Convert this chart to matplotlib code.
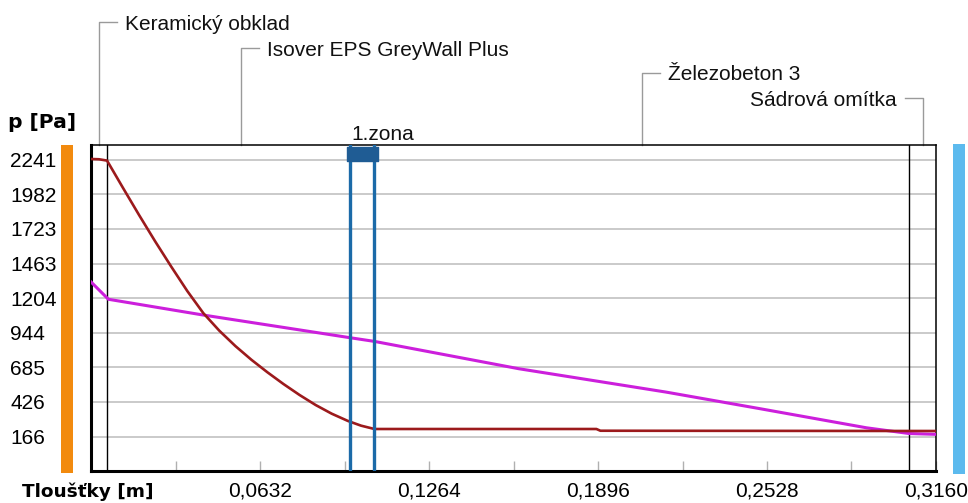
import matplotlib
matplotlib.use("Agg")
import matplotlib.pyplot as plt
from matplotlib.transforms import blended_transform_factory
from matplotlib.patches import Rectangle
from matplotlib.lines import Line2D

# ---- data -------------------------------------------------------------
layer_names = ["Keramický obklad", "Isover EPS GreyWall Plus", "Železobeton 3", "Sádrová omítka"]
layer_thickness = [0.006, 0.100, 0.200, 0.010]

x_ticks = [0.0632, 0.1264, 0.1896, 0.2528, 0.3160]
x_tick_labels = ["0,0632", "0,1264", "0,1896", "0,2528", "0,3160"]
x_minor_ticks = [0.0316, 0.0948, 0.1580, 0.2212, 0.2844]
y_ticks = [166, 426, 685, 944, 1204, 1463, 1723, 1982, 2241]
y_tick_labels = ["166", "426", "685", "944", "1204", "1463", "1723", "1982", "2241"]

# saturated water vapour pressure [Pa]
x_sat = [0.000, 0.003, 0.006, 0.012, 0.018, 0.024, 0.030, 0.036, 0.042,
         0.048, 0.054, 0.060, 0.066, 0.072, 0.078, 0.084, 0.090, 0.096,
         0.101, 0.106, 0.1890, 0.1905, 0.316]
p_sat = [2248, 2246, 2236, 2030, 1827, 1630, 1441, 1258, 1092,
         960, 845, 742, 648, 560, 478, 403, 338, 284,
         248, 223, 223, 210, 208]

# partial water vapour pressure [Pa]
x_par = [0.000, 0.0065, 0.0413, 0.0961, 0.106, 0.160, 0.215, 0.250, 0.290, 0.306, 0.316]
p_par = [1326, 1196, 1080, 910, 880, 675, 500, 376, 232, 189, 183]

zone_start, zone_end = 0.097, 0.106
zone_label = "1.zona"

x_max = 0.316
y_min, y_max = -92, 2353

# ---- figure -----------------------------------------------------------
W, H = 968, 503
fig = plt.figure(figsize=(W / 100, H / 100), dpi=100)
fig.patch.set_facecolor("white")

ax = fig.add_axes([91 / W, (H - 471) / H, (936 - 91) / W, (471 - 145) / H])
ax.set_xlim(0, x_max)
ax.set_ylim(y_min, y_max)

tick_font = dict(family="Liberation Sans", size=15)

ax.set_yticks(y_ticks)
ax.set_yticklabels(y_tick_labels, **tick_font)
ax.tick_params(axis="y", length=0, pad=58.3)
for lab in ax.get_yticklabels():
    lab.set_horizontalalignment("left")
ax.yaxis.grid(True, color="#c6c6c6", lw=1.3)
ax.set_axisbelow(True)

ax.set_xticks(x_ticks)
ax.set_xticklabels(x_tick_labels, **tick_font)
ax.set_xticks(x_minor_ticks, minor=True)
ax.tick_params(axis="x", which="both", direction="in", length=7.5, width=1,
               color="#b0b0b0", pad=7.5)

for side, lw in (("left", 2.2), ("bottom", 2.2), ("top", 1.1), ("right", 1.1)):
    ax.spines[side].set_linewidth(lw)
    ax.spines[side].set_color("black")

# layer boundaries
bounds = []
acc = 0.0
for t in layer_thickness:
    acc += t
    bounds.append(acc)
for b in bounds[:-1]:
    ax.axvline(b, color="black", lw=1.0, zorder=2)

# pressure curves
ax.plot(x_sat, p_sat, color="#9c1a1c", lw=1.9, zorder=4, solid_joinstyle="round")
ax.plot(x_par, p_par, color="#cc1fdc", lw=2.2, zorder=3, solid_joinstyle="round")

# condensation zone
for xz in (zone_start, zone_end):
    ax.axvline(xz, color="#1b6aa8", lw=2.4, zorder=5)
ax_blend = blended_transform_factory(ax.transData, ax.transAxes)
data_per_px = x_max / (936 - 91)
ax.add_patch(Rectangle((zone_start - 3 * data_per_px, 0.952),
                       (zone_end - zone_start) + 7 * data_per_px, 0.043,
                       transform=ax_blend, facecolor="#1f5c94", edgecolor="#1f5c94",
                       lw=1, joinstyle="round", zorder=6, clip_on=False))
fig_blend = blended_transform_factory(ax.transData, fig.transFigure)
ax.text(zone_start + 1 * data_per_px, 1 - 140 / H, zone_label, transform=fig_blend,
        ha="left", va="baseline", fontsize=15, family="Liberation Sans", color="#111111")

# layer name leaders
centers = []
start = 0.0
for t in layer_thickness:
    centers.append(start + t / 2)
    start += t
leader_y = [22, 48, 73, 98]
frame_top = 1 - 145 / H
leader_col = "#9a9a9a"
for i, (name, cx, ly) in enumerate(zip(layer_names, centers, leader_y)):
    fy = 1 - ly / H
    right_side = i == len(layer_names) - 1
    sign = -1 if right_side else 1
    hx = cx + sign * 18 * data_per_px
    ax.add_line(Line2D([cx, cx, hx], [frame_top, fy, fy], transform=fig_blend,
                       color=leader_col, lw=1.0, clip_on=False))
    tx = hx + sign * 8 * data_per_px
    ax.text(tx, 1 - (ly + 7.5) / H, name, transform=fig_blend,
            ha="right" if right_side else "left", va="baseline",
            fontsize=15, family="Liberation Sans", color="#111111")

# side bars (interior / exterior)
fig.patches.append(Rectangle((61 / W, 1 - 473 / H), 12 / W, 328 / H,
                             transform=fig.transFigure, facecolor="#f28a0e",
                             edgecolor="none"))
fig.patches.append(Rectangle((953 / W, 1 - 474 / H), 12 / W, 330 / H,
                             transform=fig.transFigure, facecolor="#5cbaee",
                             edgecolor="none"))

# axis titles
fig.text(8 / W, 1 - 128 / H, "p [Pa]", fontsize=14.6, fontweight="bold",
         family="DejaVu Sans", ha="left", va="baseline")
fig.text(22 / W, 1 - 497 / H, "Tloušťky [m]", fontsize=13.3, fontweight="bold",
         family="DejaVu Sans", ha="left", va="baseline")

fig.savefig("out.png", dpi=100)
